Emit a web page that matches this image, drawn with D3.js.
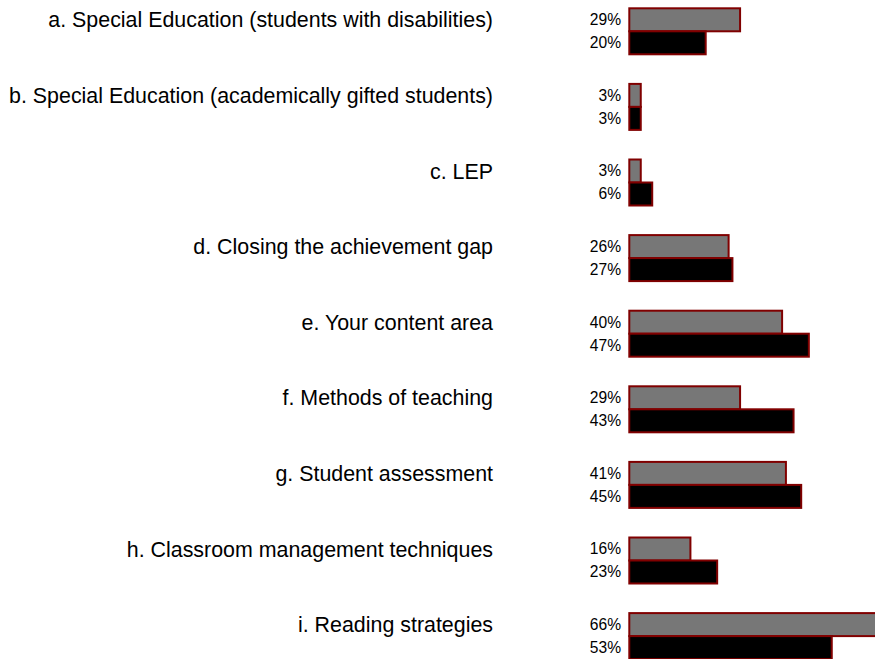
<!DOCTYPE html>
<html>
<head>
<meta charset="utf-8">
<script src="https://cdn.jsdelivr.net/npm/d3@7"></script>
<style>
  html, body { margin: 0; padding: 0; background: #fff; }
  svg { display: block; }
</style>
</head>
<body>
<svg id="chart" width="875" height="659"></svg>
<script>
// Professional development topics and the share of respondents for each of two groups
const categories = [
  "a. Special Education (students with disabilities)",
  "b. Special Education (academically gifted students)",
  "c. LEP",
  "d. Closing the achievement gap",
  "e. Your content area",
  "f. Methods of teaching",
  "g. Student assessment",
  "h. Classroom management techniques",
  "i. Reading strategies"
];
const seriesNames = ["Group 1", "Group 2"];
const series1 = [29, 3, 3, 26, 40, 29, 41, 16, 66];
const series2 = [20, 3, 6, 27, 47, 43, 45, 23, 53];

const svg = d3.select("#chart");

const rows = categories.map((c, i) => ({ cat: c, values: [series1[i], series2[i]] }));

const x = d3.scaleLinear().domain([0, 100]).range([629.3, 629.3 + 382]);

const y = d3.scaleBand()
  .domain(categories)
  .range([8.3, 8.3 + 8 * 75.6 + 46])
  .paddingInner(1 - 46 / 75.6)
  .paddingOuter(0);

const ySub = d3.scaleBand()
  .domain(seriesNames)
  .range([0, y.bandwidth()]);

const colors = d3.scaleOrdinal().domain(seriesNames).range(["#777777", "#000000"]);

const g = svg.append("g");

const groups = g.selectAll("g.row")
  .data(rows)
  .join("g")
  .attr("class", "row")
  .attr("transform", d => `translate(0,${y(d.cat)})`);

// Category labels, aligned with the first bar of each pair
groups.append("text")
  .attr("x", 493)
  .attr("y", ySub(seriesNames[0]) + ySub.bandwidth() / 2)
  .attr("dy", "0.35em")
  .attr("text-anchor", "end")
  .attr("font-family", "Liberation Sans, Arial, sans-serif")
  .attr("font-size", 21.4)
  .attr("fill", "#000")
  .text(d => d.cat);

const bars = groups.selectAll("g.bar")
  .data(d => d.values.map((v, j) => ({ key: seriesNames[j], value: v })))
  .join("g")
  .attr("class", "bar");

bars.append("rect")
  .attr("x", x(0))
  .attr("y", d => ySub(d.key))
  .attr("width", d => x(d.value) - x(0))
  .attr("height", ySub.bandwidth())
  .attr("fill", d => colors(d.key))
  .attr("stroke", "#800000")
  .attr("stroke-width", 2);

bars.append("text")
  .attr("x", 621)
  .attr("y", d => ySub(d.key) + ySub.bandwidth() / 2)
  .attr("dy", "0.35em")
  .attr("text-anchor", "end")
  .attr("font-family", "Liberation Sans, Arial, sans-serif")
  .attr("font-size", 15.6)
  .attr("fill", "#000")
  .text(d => d.value + "%");
</script>
</body>
</html>
